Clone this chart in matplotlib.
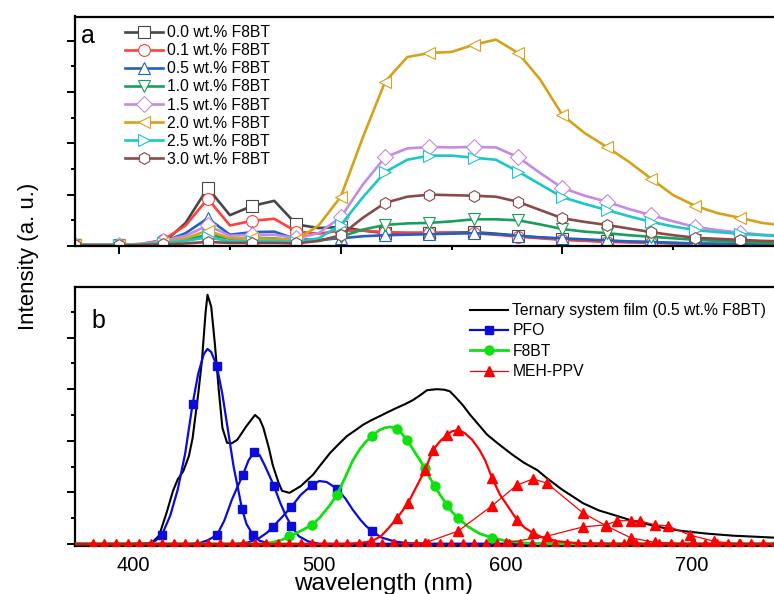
import numpy as np
import matplotlib
matplotlib.use('Agg')
import matplotlib.pyplot as plt
from matplotlib.lines import Line2D
from matplotlib.ticker import MultipleLocator

plt.rcParams['font.family'] = ['Liberation Sans', 'DejaVu Sans']

# ---- panel a: PL spectra of the blend films, read every 10 nm ----
wl_a = [380, 390, 400, 410, 420, 430, 440, 450, 460, 470, 480, 490, 500, 510, 520, 530, 540,
        550, 560, 570, 580, 590, 600, 610, 620, 630, 640, 650, 660, 670, 680, 690, 700]
pl_00 = [0.02, 0.02, 0.02, 0.03, 0.06, 0.45, 1.13, 0.6, 0.78, 0.88, 0.42, 0.35, 0.37, 0.3, 0.25, 0.25, 0.25,
         0.26, 0.27, 0.24, 0.2, 0.16, 0.13, 0.11, 0.09, 0.08, 0.07, 0.06, 0.05, 0.04, 0.04, 0.03, 0.03]
pl_01 = [0.02, 0.02, 0.02, 0.04, 0.12, 0.4, 0.92, 0.4, 0.49, 0.53, 0.28, 0.24, 0.3, 0.3, 0.27, 0.26, 0.26,
         0.26, 0.25, 0.22, 0.18, 0.15, 0.12, 0.1, 0.08, 0.07, 0.06, 0.05, 0.04, 0.04, 0.03, 0.03, 0.03]
pl_05 = [0.02, 0.02, 0.02, 0.03, 0.08, 0.25, 0.54, 0.22, 0.27, 0.28, 0.13, 0.12, 0.15, 0.19, 0.21, 0.22, 0.23,
         0.24, 0.25, 0.23, 0.2, 0.17, 0.15, 0.13, 0.11, 0.09, 0.08, 0.06, 0.05, 0.04, 0.03, 0.03, 0.02]
pl_10 = [0.02, 0.02, 0.02, 0.03, 0.05, 0.12, 0.22, 0.14, 0.16, 0.15, 0.1, 0.1, 0.18, 0.32, 0.41, 0.44, 0.45,
         0.48, 0.52, 0.52, 0.5, 0.42, 0.33, 0.28, 0.25, 0.21, 0.18, 0.15, 0.12, 0.1, 0.08, 0.06, 0.05]
pl_15 = [0.02, 0.02, 0.02, 0.04, 0.1, 0.2, 0.4, 0.2, 0.22, 0.22, 0.15, 0.25, 0.56, 1.2, 1.73, 1.9, 1.93,
         1.92, 1.93, 1.92, 1.73, 1.42, 1.13, 0.98, 0.86, 0.72, 0.6, 0.48, 0.37, 0.31, 0.26, 0.22, 0.2]
pl_20 = [0.02, 0.02, 0.02, 0.03, 0.06, 0.15, 0.3, 0.15, 0.15, 0.14, 0.12, 0.4, 0.96, 2.12, 3.2, 3.68, 3.76,
         3.78, 3.92, 4.02, 3.76, 3.24, 2.55, 2.2, 1.93, 1.64, 1.31, 0.99, 0.78, 0.64, 0.55, 0.45, 0.4]
pl_25 = [0.02, 0.02, 0.02, 0.03, 0.06, 0.1, 0.17, 0.09, 0.1, 0.1, 0.07, 0.15, 0.41, 0.95, 1.44, 1.68, 1.76,
         1.76, 1.72, 1.68, 1.45, 1.2, 0.95, 0.82, 0.7, 0.58, 0.47, 0.38, 0.31, 0.27, 0.24, 0.21, 0.19]
pl_30 = [0.01, 0.01, 0.01, 0.02, 0.03, 0.05, 0.08, 0.06, 0.06, 0.06, 0.05, 0.1, 0.21, 0.55, 0.84, 0.96, 1.0,
         0.99, 0.98, 0.96, 0.86, 0.7, 0.54, 0.47, 0.41, 0.34, 0.27, 0.21, 0.16, 0.14, 0.12, 0.1, 0.09]

labels_a = ['0.0 wt.% F8BT', '0.1 wt.% F8BT', '0.5 wt.% F8BT', '1.0 wt.% F8BT',
            '1.5 wt.% F8BT', '2.0 wt.% F8BT', '2.5 wt.% F8BT', '3.0 wt.% F8BT']
series_a = [pl_00, pl_01, pl_05, pl_10, pl_15, pl_20, pl_25, pl_30]
colors_a = ['#474747', '#ff4040', '#1f62c4', '#16a05c', '#c48ae6', '#d6a21c', '#1cc7c7', '#8a4a4a']
markers_a = ['s', 'o', '^', 'v', 'D', '<', '>', 'h']

# ---- panel b: ternary film and its components ----
tern_x = [369, 405, 410, 414, 418, 421.5, 424, 427, 430, 432, 435, 437, 439, 440, 442, 444, 446, 448,
          450.5, 453, 456, 461, 465.5, 468, 470, 473, 475, 478, 480, 484, 490, 496.6, 500, 505.7, 510,
          514.8, 520, 523.5, 528, 532.6, 537, 541.7, 546, 550.3, 554, 557.8, 563, 567, 570, 573, 577,
          581, 586, 590, 595.4, 600, 604, 610, 617, 622, 630, 641.5, 650, 660, 668, 677.5, 686, 695,
          708, 722, 734, 745]
tern_y = [0, 0, 0.02, 0.16, 0.6, 1.03, 1.25, 1.41, 1.7, 2.05, 2.9, 3.55, 4.5, 4.83, 4.6, 3.86, 3.0, 2.25,
          1.96, 1.95, 2.02, 2.29, 2.5, 2.42, 2.25, 1.85, 1.53, 1.2, 1.03, 0.99, 1.12, 1.34, 1.5, 1.76, 1.92,
          2.09, 2.22, 2.31, 2.4, 2.48, 2.56, 2.64, 2.71, 2.79, 2.88, 2.98, 3.0, 2.99, 2.96, 2.85, 2.69,
          2.5, 2.29, 2.12, 1.96, 1.83, 1.72, 1.57, 1.43, 1.28, 1.06, 0.79, 0.65, 0.54, 0.45, 0.37, 0.3, 0.25,
          0.2, 0.16, 0.14, 0.12]

pfo1_x = [369, 400, 408, 412, 415.5, 420, 424, 428, 432, 435, 438, 440, 442, 445, 448, 451, 454, 456.5,
          458.5, 461, 464.5, 468, 472, 480, 745]
pfo1_y = [0, 0, 0.01, 0.06, 0.17, 0.55, 1.05, 1.75, 2.71, 3.3, 3.68, 3.78, 3.72, 3.45, 2.9, 2.2, 1.5, 1.05,
          0.68, 0.38, 0.17, 0.06, 0.02, 0, 0]
pfo1_mx = [415.5, 432, 445, 458.5, 464.5]
pfo1_my = [0.17, 2.71, 3.45, 0.68, 0.17]

pfo2_x = [369, 430, 436, 440, 445, 449, 453, 456, 459, 462, 465, 468, 471, 473.5, 475.7, 479, 482, 485,
          489, 494, 500, 745]
pfo2_y = [0, 0, 0.02, 0.07, 0.17, 0.45, 0.85, 1.1, 1.34, 1.62, 1.78, 1.72, 1.5, 1.3, 1.12, 0.8, 0.55, 0.35,
          0.15, 0.05, 0, 0]
pfo2_mx = [445, 459, 465, 475.7, 485]
pfo2_my = [0.17, 1.34, 1.78, 1.12, 0.35]

pfo3_x = [369, 455, 462, 468, 472, 475, 480, 485, 490, 496, 500, 504, 509.5, 514, 518, 522, 525, 528.3,
          533, 540, 548, 560, 745]
pfo3_y = [0, 0, 0.03, 0.12, 0.22, 0.33, 0.52, 0.72, 0.95, 1.14, 1.22, 1.2, 1.07, 0.88, 0.66, 0.47, 0.35,
          0.25, 0.13, 0.05, 0.01, 0, 0]
pfo3_mx = [475, 485, 496, 509.5, 528.3]
pfo3_my = [0.33, 0.72, 1.14, 1.07, 0.25]

f8bt_x = [369, 470, 476, 480, 484, 490, 496, 500, 505, 509.5, 514, 518, 522, 525, 528.3, 532, 535, 538,
          541.7, 544, 547, 550, 553, 556.7, 559, 562, 565, 568.5, 571, 574.5, 580, 586, 592.7, 600, 610,
          620, 745]
f8bt_y = [0, 0, 0.04, 0.08, 0.15, 0.25, 0.37, 0.5, 0.72, 0.95, 1.3, 1.62, 1.85, 1.98, 2.09, 2.2, 2.25, 2.27,
          2.23, 2.15, 2.02, 1.85, 1.68, 1.47, 1.3, 1.12, 0.94, 0.76, 0.63, 0.5, 0.33, 0.2, 0.12, 0.06, 0.02,
          0, 0]
f8bt_mx = [484, 496, 509.5, 528.3, 541.7, 547, 556.7, 562, 568.5, 574.5, 592.7]
f8bt_my = [0.15, 0.37, 0.95, 2.09, 2.23, 2.02, 1.47, 1.12, 0.76, 0.5, 0.12]

meh1_x = [369, 515, 522, 528, 533, 537, 541.7, 547.6, 552, 556.7, 561, 565, 568.5, 571, 574.5, 578, 582,
          586, 589, 592.7, 597, 601, 606, 610, 614.7, 620, 628, 640, 660, 745]
meh1_y = [0, 0, 0.02, 0.05, 0.15, 0.3, 0.5, 0.79, 1.1, 1.43, 1.82, 2.0, 2.11, 2.18, 2.21, 2.15, 2.02,
          1.82, 1.62, 1.28, 0.95, 0.74, 0.47, 0.32, 0.21, 0.12, 0.05, 0.01, 0, 0]
meh1_mx = [528, 541.7, 547.6, 556.7, 561, 568.5, 574.5, 592.7, 606, 614.7]
meh1_my = [0.05, 0.5, 0.79, 1.43, 1.82, 2.11, 2.21, 1.28, 0.47, 0.21]

meh2_x = [540, 556.7, 574.5, 592.7, 606, 614.7, 622, 641.5, 654, 667, 680, 700]
meh2_y = [0, 0.02, 0.25, 0.74, 1.14, 1.26, 1.18, 0.6, 0.35, 0.12, 0.03, 0]
meh3_x = [600, 622, 641.5, 654, 660, 667, 672, 680, 687, 699, 712, 725]
meh3_y = [0.02, 0.15, 0.33, 0.37, 0.45, 0.45, 0.45, 0.37, 0.35, 0.17, 0.05, 0]

# zero-level samples of the MEH-PPV fits along the bottom
base_x = [378.5, 384.7, 390.9, 397.1, 403.3, 409.5, 415.7, 421.9, 428.1, 434.3, 440.5, 446.7, 452.9,
          459.1, 465.3, 471.5, 477.7, 483.9, 490.1, 496.3, 502.5, 508.7, 514.9, 521.1, 527.3, 533.5,
          539.7, 545.9, 552.1, 558.3, 564.5, 570.7, 576.9, 583.1, 589.3, 595.5, 601.7, 607.9, 614.1,
          620.3, 626.5, 632.7, 638.9, 645.1, 651.3, 657.5, 663.7, 669.9, 676.1, 682.3, 688.5, 694.7,
          700.9, 707.1, 713.3, 719.5, 725.7, 731.9, 738.1, 744.3]

W, H = 774, 594
fig = plt.figure(figsize=(W / 100, H / 100), dpi=100)

def px_axes(left, top, right, bottom):
    return fig.add_axes([left / W, 1 - bottom / H, (right - left) / W, (bottom - top) / H])

axa = px_axes(75, 16.5, 777, 246)
axb = px_axes(75, 287.3, 777, 546)

for ax in (axa, axb):
    for s in ax.spines.values():
        s.set_linewidth(1.6)
    ax.spines['right'].set_visible(False)

# panel a
for y, lab, c, m in zip(series_a, labels_a, colors_a, markers_a):
    axa.plot(wl_a, y, color=c, lw=1.9, marker=m, ms=8.5, mfc='white', mec=c, mew=0.8,
             markevery=2, label=lab)
axa.set_xlim(380.1, 696.8)
axa.set_ylim(0, 4.47)
axa.xaxis.set_major_locator(MultipleLocator(100))
axa.xaxis.set_minor_locator(MultipleLocator(50))
axa.yaxis.set_major_locator(MultipleLocator(1))
axa.yaxis.set_minor_locator(MultipleLocator(0.5))
axa.tick_params(which='major', direction='out', length=6, width=1.4, labelbottom=False, labelleft=False)
axa.tick_params(which='minor', direction='out', length=3, width=1.4)
axa.legend(loc='upper left', bbox_to_anchor=(125 / W, 1 - 25 / H), bbox_transform=fig.transFigure,
           frameon=False, fontsize=11.3, handlelength=2.45, handletextpad=0.25, labelspacing=0.2,
           borderpad=0, borderaxespad=0, numpoints=1)

# panel b
axb.plot(tern_x, tern_y, color='black', lw=1.5, zorder=3)
for lx, ly, mx, my in [(pfo1_x, pfo1_y, pfo1_mx, pfo1_my), (pfo2_x, pfo2_y, pfo2_mx, pfo2_my),
                       (pfo3_x, pfo3_y, pfo3_mx, pfo3_my)]:
    axb.plot(lx, ly, color='#0b0bdc', lw=1.6, zorder=4)
    axb.plot(mx, my, ls='none', marker='s', ms=6, color='#0b0bdc', zorder=4)
axb.plot(f8bt_x, f8bt_y, color='#10e010', lw=2.0, zorder=5)
axb.plot(f8bt_mx, f8bt_my, ls='none', marker='o', ms=6.5, color='#10e010', zorder=5)
axb.plot(meh1_x, meh1_y, color='#ff0000', lw=1.6, zorder=6)
axb.plot(meh1_mx, meh1_my, ls='none', marker='^', ms=7.8, color='#ff0000', zorder=6)
for lx, ly in [(meh2_x, meh2_y), (meh3_x, meh3_y)]:
    axb.plot(lx, ly, color='#ff0000', lw=0.9, marker='^', ms=7.8, zorder=6)
axb.plot(base_x, [0] * len(base_x), ls='none', marker='^', ms=7.8, color='#ff0000', zorder=7)

axb.set_xlim(368.9, 745.6)
axb.set_ylim(-0.04, 4.975)
axb.xaxis.set_major_locator(MultipleLocator(100))
axb.yaxis.set_major_locator(MultipleLocator(1))
axb.yaxis.set_minor_locator(MultipleLocator(0.5))
axb.tick_params(axis='x', which='both', length=0, pad=7, labelsize=14.5)
axb.tick_params(axis='y', which='major', direction='out', length=6, width=1.4, labelleft=False)
axb.tick_params(axis='y', which='minor', direction='out', length=3, width=1.4)

handles_b = [Line2D([], [], color='black', lw=1.5),
             Line2D([], [], color='#0b0bdc', lw=1.6, marker='s', ms=6),
             Line2D([], [], color='#10e010', lw=2.0, marker='o', ms=6.5),
             Line2D([], [], color='#ff0000', lw=0.9, marker='^', ms=7.8)]
labels_b = ['Ternary system film (0.5 wt.% F8BT)', 'PFO', 'F8BT', 'MEH-PPV']
axb.legend(handles_b, labels_b, loc='upper left', bbox_to_anchor=(470 / W, 1 - 303 / H),
           bbox_transform=fig.transFigure, frameon=False, fontsize=11.3, handlelength=2.45,
           handletextpad=0.25, labelspacing=0.35, borderpad=0, borderaxespad=0, numpoints=1)

fig.text(88 / W, 1 - 36 / H, 'a', fontsize=18, ha='center', va='center')
fig.text(98 / W, 1 - 321 / H, 'b', fontsize=18, ha='center', va='center')
fig.text(29 / W, 1 - 256.5 / H, 'Intensity (a. u.)', fontsize=16, rotation=90, ha='center', va='center')
fig.text(383.5 / W, 1 - 590 / H, 'wavelength (nm)', fontsize=17.5, ha='center', va='baseline')

fig.savefig('out.png', dpi=100)
